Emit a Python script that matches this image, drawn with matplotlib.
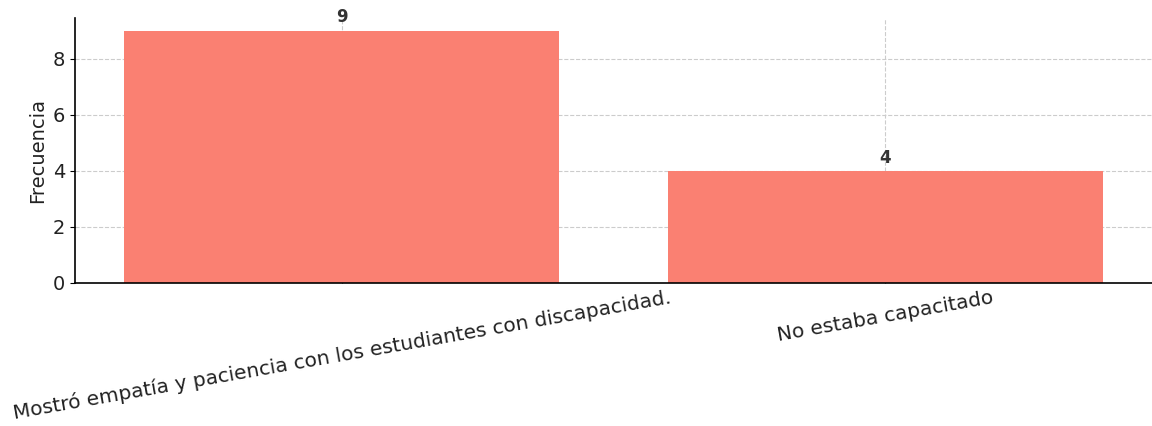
import matplotlib.pyplot as plt

categorias = ["Mostró empatía y paciencia con los estudiantes con discapacidad.",
              "No estaba capacitado"]
frecuencias = [9, 4]

fig = plt.figure(figsize=(11.52, 4.26), dpi=100)
ax = fig.add_axes([0.0651, 0.3357, 0.9349, 0.622])

bars = ax.bar(categorias, frecuencias, color="salmon", width=0.8, zorder=2)
ax.grid(True, linestyle="--", color="#cccccc", linewidth=0.8, zorder=0)

for b, v in zip(bars, frecuencias):
    ax.text(b.get_x() + b.get_width() / 2, v + 0.15, str(v),
            ha="center", va="bottom", fontsize=12, fontweight="bold", color="#333333")

ax.set_ylabel("Frecuencia", fontsize=14, color="#222222")
ax.tick_params(axis="y", labelsize=14, labelcolor="#222222")
ax.tick_params(axis="x", labelsize=14.5, labelcolor="#222222", direction="in", length=4)
plt.setp(ax.get_xticklabels(), rotation=10, ha="center")

ax.spines["top"].set_visible(False)
ax.spines["right"].set_visible(False)
ax.spines["left"].set_linewidth(1.2)
ax.spines["bottom"].set_linewidth(1.2)

fig.savefig("out.png", dpi=100)
